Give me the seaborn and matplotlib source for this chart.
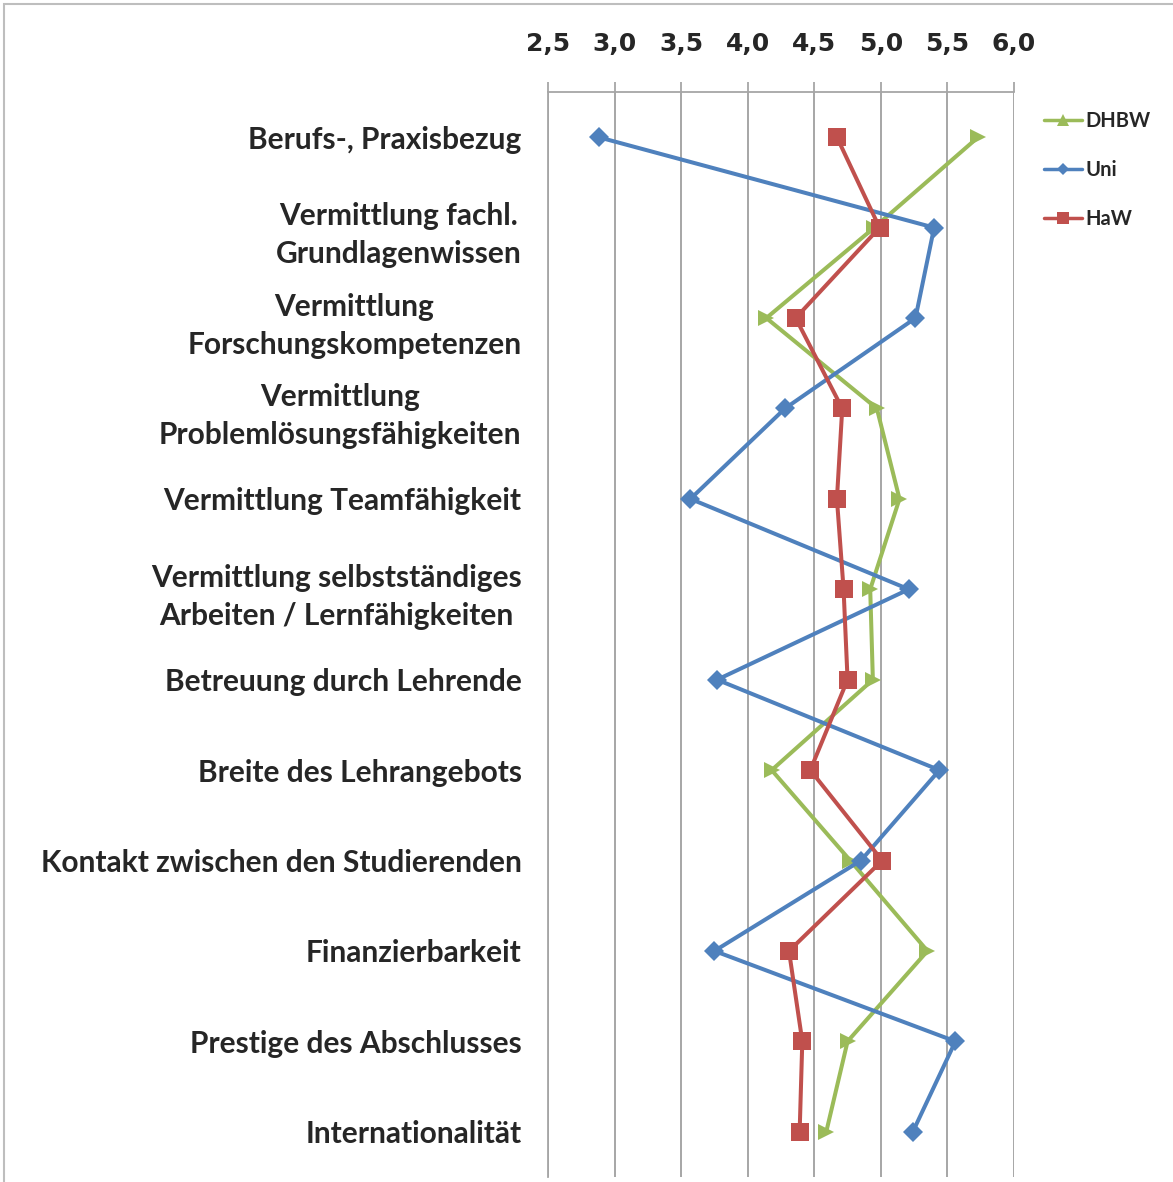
import matplotlib
matplotlib.use("Agg")
import matplotlib.pyplot as plt
from matplotlib.lines import Line2D
from matplotlib.patches import Rectangle
from matplotlib.ticker import FixedLocator, FuncFormatter
import seaborn as sns
import pandas as pd

# Bewertungskriterien (von oben nach unten)
kriterien = [
    "Berufs-, Praxisbezug",
    "Vermittlung fachl.\nGrundlagenwissen",
    "Vermittlung\nForschungskompetenzen",
    "Vermittlung\nProblemlösungsfähigkeiten",
    "Vermittlung Teamfähigkeit",
    "Vermittlung selbstständiges\nArbeiten / Lernfähigkeiten",
    "Betreuung durch Lehrende",
    "Breite des Lehrangebots",
    "Kontakt zwischen den Studierenden",
    "Finanzierbarkeit",
    "Prestige des Abschlusses",
    "Internationalität",
]

# Mittelwerte je Hochschultyp
dhbw = [5.73, 4.95, 4.14, 4.97, 5.14, 4.92, 4.94, 4.18, 4.77, 5.35, 4.75, 4.59]
uni = [2.88, 5.40, 5.26, 4.28, 3.57, 5.21, 3.77, 5.44, 4.85, 3.75, 5.56, 5.24]
haw = [4.67, 4.99, 4.36, 4.71, 4.67, 4.72, 4.75, 4.47, 5.01, 4.31, 4.41, 4.39]

hochschulen = ["DHBW", "Uni", "HaW"]
farben = {"DHBW": "#9BBB59", "Uni": "#4F81BD", "HaW": "#C0504D"}
x_ticks = [2.5, 3.0, 3.5, 4.0, 4.5, 5.0, 5.5, 6.0]

rows = []
for name, werte in zip(hochschulen, [dhbw, uni, haw]):
    for pos, w in enumerate(werte):
        rows.append({"pos": pos, "Bewertung": w, "Hochschule": name})
df = pd.DataFrame(rows)

sns.set_style("white")
plt.rcParams["font.family"] = ["Lato", "DejaVu Sans"]

W, H = 1173, 1182
fig = plt.figure(figsize=(W / 100, H / 100), dpi=100)
fig.patch.set_facecolor("white")

# light chart frame
fig.patches.append(Rectangle((4 / W, -0.01), 1.02, 1 - 4 / H + 0.01,
                             transform=fig.transFigure, fill=False,
                             edgecolor="#BEBEBE", linewidth=1.5))

ax = fig.add_axes([548 / W, 1 - 1177 / H, (1014 - 548) / W, (1177 - 92) / H])

sns.lineplot(
    data=df, x="Bewertung", y="pos", hue="Hochschule", style="Hochschule",
    hue_order=hochschulen, style_order=hochschulen,
    palette=farben, markers={"DHBW": ">", "Uni": "D", "HaW": "s"},
    dashes=False, orient="y", sort=False, estimator=None,
    linewidth=2.9, markersize=12.5, markeredgewidth=0,
    legend=False, ax=ax,
)
for line in ax.lines:
    if line.get_marker() == "D":
        line.set_markersize(10)
    elif line.get_marker() == ">":
        line.set_markersize(11.5)

grau = "#A6A6A6"
ax.set_xlim(2.5, 6.0)
ax.set_ylim(len(kriterien) - 0.5, -0.5)

ax.xaxis.set_major_locator(FixedLocator(x_ticks))
ax.xaxis.set_major_formatter(FuncFormatter(lambda v, p: f"{v:.1f}".replace(".", ",")))
ax.xaxis.tick_top()
ax.tick_params(axis="x", which="major", direction="out", length=7, width=1.3,
               color=grau, pad=19, labelsize=18)
for lbl in ax.get_xticklabels():
    lbl.set_fontfamily("DejaVu Sans")
    lbl.set_fontweight("bold")
ax.grid(axis="x", color=grau, linewidth=1.4)
ax.grid(axis="y", visible=False)

ax.set_yticks(range(len(kriterien)))
ax.set_yticklabels(kriterien, fontweight="bold", fontsize=21.5,
                   multialignment="center", linespacing=1.45)
ax.tick_params(axis="y", which="major", length=0, pad=19)
ax.yaxis.set_minor_locator(FixedLocator([i - 0.5 for i in range(len(kriterien) + 1)]))
ax.tick_params(axis="y", which="minor", direction="out", length=7, width=1.3, color=grau)

ax.set_xlabel("")
ax.set_ylabel("")
for side in ["right", "bottom"]:
    ax.spines[side].set_visible(False)
for side in ["left", "top"]:
    ax.spines[side].set_color(grau)
    ax.spines[side].set_linewidth(1.3)

handles = [
    Line2D([], [], color=farben["DHBW"], marker="^", markersize=8, markeredgewidth=0, linewidth=2.5),
    Line2D([], [], color=farben["Uni"], marker="D", markersize=6.5, markeredgewidth=0, linewidth=2.5),
    Line2D([], [], color=farben["HaW"], marker="s", markersize=8, markeredgewidth=0, linewidth=2.5),
]
fig.legend(handles, hochschulen, loc="upper left",
           bbox_to_anchor=(1044 / W, 1 - 111 / H), frameon=False,
           prop={"family": "Lato", "weight": "bold", "size": 14.5},
           handlelength=1.9, handletextpad=0.15, labelspacing=1.45,
           borderaxespad=0, borderpad=0)

fig.savefig("out.png", dpi=100, facecolor="white")
